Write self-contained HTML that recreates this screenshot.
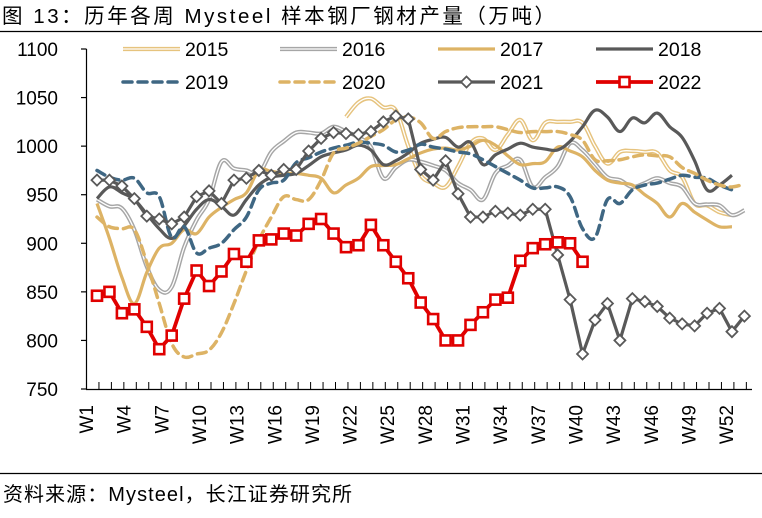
<!DOCTYPE html>
<html><head><meta charset="utf-8"><style>
body{margin:0;background:#fff;}
svg{display:block;font-family:"Liberation Sans","Noto Sans CJK SC",sans-serif;}
</style></head><body>
<svg id="chart" width="762" height="518" viewBox="0 0 762 518">
<text x="2" y="23" font-size="20.5" textLength="553" lengthAdjust="spacing" fill="#000">图 13：历年各周 Mysteel 样本钢厂钢材产量（万吨）</text>
<line x1="0" y1="31.5" x2="762" y2="31.5" stroke="#000" stroke-width="1.2"/>
<line x1="0" y1="473.5" x2="762" y2="473.5" stroke="#000" stroke-width="1.2"/>
<text x="3" y="501" font-size="20" textLength="349" lengthAdjust="spacing" fill="#000">资料来源：Mysteel，长江证券研究所</text>
<g id="axes"></g><g id="series"></g><g id="legend"></g>
</svg>
<script>
const yTicks=[750,800,850,900,950,1000,1050,1100];
const weekLabels=["W1","W4","W7","W10","W13","W16","W19","W22","W25","W28","W31","W34","W37","W40","W43","W46","W49","W52"];
const s2015=[null,null,null,null,null,null,null,null,null,null,null,null,null,null,null,null,null,null,null,null,1030,1045,1049,1040,1037,1000,970,962,958,979,1003,1008,996,1012,1027,1006,1024,1025,1025,1024,1000,982,994,995,994,993,975,968,941,939,932,929];
const s2016=[945,938,936,914,876,852,855,896,924,945,984,977,975,972,994,1005,1014,1014,1013,1020,1015,1009,999,967,978,986,984,980,975,962,955,945,972,980,986,958,968,979,1003,996,982,968,965,958,962,967,962,958,941,940,939,929,934];
const s2017=[941,905,865,838,870,895,900,914,910,927,937,945,952,975,974,972,972,970,967,952,960,967,979,980,981,987,993,997,998,996,1000,1006,1001,990,981,982,984,999,995,989,975,965,962,960,950,941,927,941,932,924,917,917];
const s2018=[946,958,952,945,930,915,905,918,935,945,938,929,945,960,968,970,972,980,989,993,996,1001,996,981,985,993,1003,1007,1009,999,1004,981,991,997,1003,999,997,996,1005,1020,1037,1030,1015,1029,1024,1034,1020,1009,985,955,960,970];
const s2019=[975,968,965,967,952,948,906,917,890,895,900,914,927,955,962,965,983,988,994,998,1001,1004,1003,1001,994,996,1002,999,997,994,992,986,979,972,965,957,957,958,948,915,906,945,941,955,960,962,966,970,968,967,960,955];
const s2020=[927,917,915,914,880,838,797,783,786,790,808,838,872,903,927,948,945,945,965,993,998,1003,1010,1017,1027,1030,1024,1008,1015,1019,1020,1020,1020,1017,1014,1015,1015,1015,1012,1006,986,985,986,989,991,990,989,978,972,965,960,958,961];
const s2021=[965,965,959,946,928,925,920,927,948,954,941,965,967,975,970,976,976,995,1008,1014,1013,1012,1015,1025,1031,1028,976,965,985,951,927,927,933,931,929,935,935,888,842,786,821,838,800,843,840,835,823,817,815,828,833,809,825];
const s2022=[846,850,828,832,814,791,805,843,872,856,871,889,881,903,904,910,908,920,925,910,896,898,919,898,881,864,839,822,800,800,816,829,842,844,882,895,899,901,900,881];
const seriesNames=["2015","2016","2017","2018","2019","2020","2021","2022"];

const NS="http://www.w3.org/2000/svg";
const X0=97,DX=12.45,YB=389,YT=49;
const xs=i=>X0+i*DX;
const ys=v=>YB-(v-750)/(1100-750)*(YB-YT);
function mk(tag,attrs,parent){const e=document.createElementNS(NS,tag);for(const k in attrs)e.setAttribute(k,attrs[k]);parent.appendChild(e);return e;}
const axes=document.getElementById('axes'),ser=document.getElementById('series'),leg=document.getElementById('legend');

let yl=mk('line',{x1:86.5,y1:YT,x2:86.5,y2:YB,stroke:'#000','stroke-width':1.2},axes);


let xl=mk('line',{x1:86,y1:YB+0.5,x2:752,y2:YB+0.5,stroke:'#000','stroke-width':1.2},axes);


yTicks.forEach(v=>{
  const y=ys(v);
  const t=mk('line',{x1:81,y1:y,x2:86.5,y2:y,stroke:'#000','stroke-width':1.2},axes);
  
  
  const lb=mk('text',{x:58,y:y+7,'font-size':19,'text-anchor':'end',fill:'#000'},axes);
  lb.textContent=v;
  
  
});
for(let k=0;k<=53;k++){
  const x=86.5+k*12.45; if(x>753)break;
  const t=mk('line',{x1:x,y1:YB-7,x2:x,y2:YB,stroke:'#000','stroke-width':1},axes);
  
  
}
weekLabels.forEach(w=>{
  const i=parseInt(w.slice(1))-1;const x=93+i*12.55;
  const lb=mk('text',{x:0,y:0,'font-size':19,'text-anchor':'end',fill:'#000',transform:`translate(${x},405) rotate(-90)`},axes);
  lb.textContent=w;
  
  
});

function pts(arr){const p=[];arr.forEach((v,i)=>{if(v!=null)p.push([xs(i),ys(v)]);});return p;}
function smooth(p){let d=`M${p[0][0]},${p[0][1]}`;for(let i=0;i<p.length-1;i++){const a=p[i-1]||p[i],b=p[i],c=p[i+1],e=p[i+2]||c;const t=0.18;
 d+=` C${b[0]+(c[0]-a[0])*t},${b[1]+(c[1]-a[1])*t} ${c[0]-(e[0]-b[0])*t},${c[1]-(e[1]-b[1])*t} ${c[0]},${c[1]}`;}return d;}
function straight(p){return 'M'+p.map(q=>q.join(',')).join(' L');}

const styles={
 "2015":{c:'#E6C37E',w:4.2,dbl:true},
 "2016":{c:'#A6A6A6',w:4.2,dbl:true},
 "2017":{c:'#DDB365',w:3.2},
 "2018":{c:'#595959',w:3.2},
 "2019":{c:'#3F6783',w:3.5,dash:'9,6'},
 "2020":{c:'#DDB365',w:3.5,dash:'9,6'},
 "2021":{c:'#595959',w:3.2,m:'diamond'},
 "2022":{c:'#E00000',w:3.8,m:'square'}
};
const data=[s2015,s2016,s2017,s2018,s2019,s2020,s2021,s2022];
function drawLine(d,st,parent,name){
  const g=mk('g',{},parent);
  
  
  mk('path',{d:d,fill:'none',stroke:st.c,'stroke-width':st.w,'stroke-dasharray':st.dash||'none','stroke-linejoin':'round','stroke-linecap':st.dash?'round':'butt'},g);
  if(st.dbl)mk('path',{d:d,fill:'none',stroke:'#fff','stroke-width':1.3,'stroke-linejoin':'round'},g);
  return g;
}
function marker(kind,x,y,c,parent){
  let m;
  if(kind==='diamond')m=mk('path',{d:`M${x},${y-5.5} L${x+5.5},${y} L${x},${y+5.5} L${x-5.5},${y} Z`,fill:'#fff',stroke:c,'stroke-width':1.8},parent);
  else m=mk('rect',{x:x-5,y:y-5,width:10,height:10,fill:'#fff',stroke:c,'stroke-width':2.6},parent);
  
  
}
seriesNames.forEach((n,k)=>{
  const st=styles[n];const p=pts(data[k]);
  const d=st.m?straight(p):smooth(p);
  const g=drawLine(d,st,ser,'series-'+n);
  if(st.m)p.forEach(q=>marker(st.m,q[0],q[1],st.c,g));
});
const legPos=[[123,49],[280,49],[438,49],[596,49],[123,82],[280,82],[438,82],[596,82]];
seriesNames.forEach((n,k)=>{
  const st=styles[n];const [x,y]=legPos[k];
  const g=drawLine(`M${x},${y} L${x+57},${y}`,st,leg,'legend-entry-'+n);
  if(st.m)marker(st.m,x+28.5,y,st.c,g);
  const t=mk('text',{x:x+62,y:y+7,'font-size':19.5,fill:'#000'},g);
  t.textContent=n;
  
  
});
</script>
</body></html>
